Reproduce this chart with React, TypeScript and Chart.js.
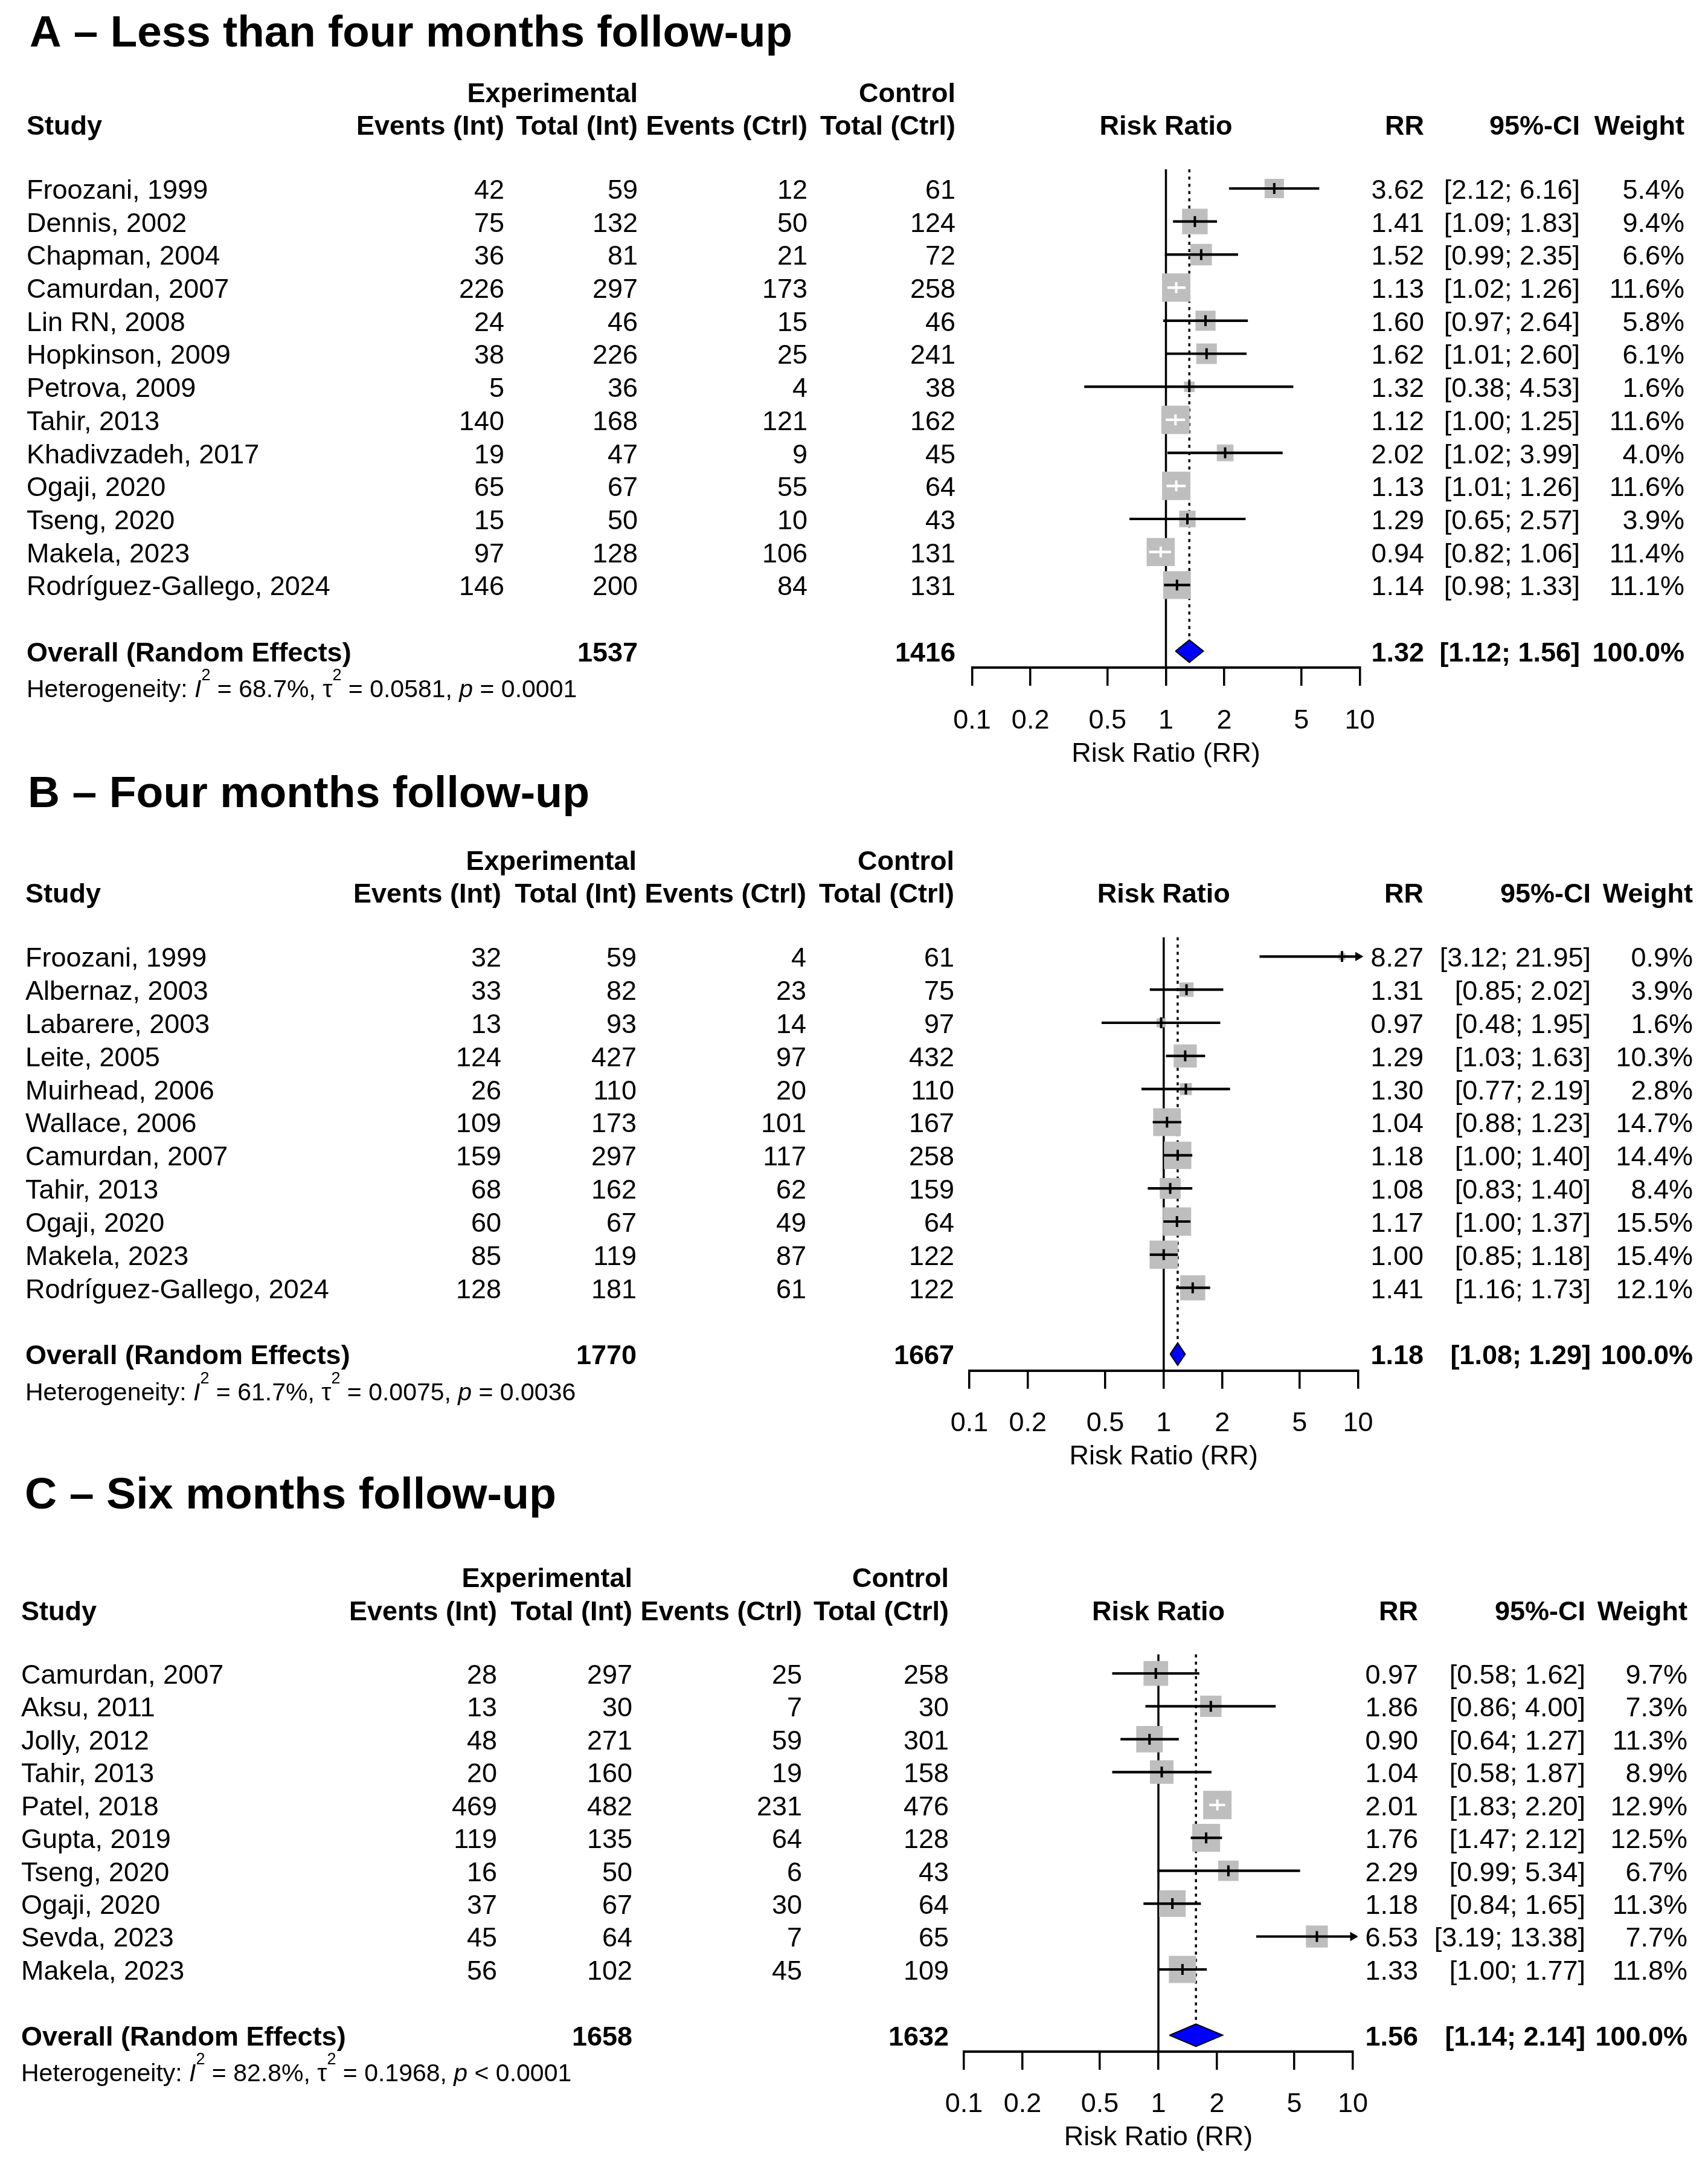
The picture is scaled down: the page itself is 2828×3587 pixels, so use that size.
import React, { useEffect, useRef } from "react";
import { Chart, registerables } from "chart.js";

Chart.register(...registerables);

const FONT = '"Liberation Sans", Arial, Helvetica, sans-serif';
const xTicks = [0.1, 0.2, 0.5, 1, 2, 5, 10];

// ---------------- Panel A ----------------
const titleA = "A \u2013 Less than four months follow-up";
const studiesA = ["Froozani, 1999", "Dennis, 2002", "Chapman, 2004", "Camurdan, 2007", "Lin RN, 2008", "Hopkinson, 2009", "Petrova, 2009", "Tahir, 2013", "Khadivzadeh, 2017", "Ogaji, 2020", "Tseng, 2020", "Makela, 2023", "Rodríguez-Gallego, 2024"];
const eventsIntA = [42, 75, 36, 226, 24, 38, 5, 140, 19, 65, 15, 97, 146];
const totalIntA = [59, 132, 81, 297, 46, 226, 36, 168, 47, 67, 50, 128, 200];
const eventsCtrlA = [12, 50, 21, 173, 15, 25, 4, 121, 9, 55, 10, 106, 84];
const totalCtrlA = [61, 124, 72, 258, 46, 241, 38, 162, 45, 64, 43, 131, 131];
const rrA = [3.62, 1.41, 1.52, 1.13, 1.6, 1.62, 1.32, 1.12, 2.02, 1.13, 1.29, 0.94, 1.14];
const lowerA = [2.12, 1.09, 0.99, 1.02, 0.97, 1.01, 0.38, 1.0, 1.02, 1.01, 0.65, 0.82, 0.98];
const upperA = [6.16, 1.83, 2.35, 1.26, 2.64, 2.6, 4.53, 1.25, 3.99, 1.26, 2.57, 1.06, 1.33];
const weightA = [5.4, 9.4, 6.6, 11.6, 5.8, 6.1, 1.6, 11.6, 4.0, 11.6, 3.9, 11.4, 11.1];
const overallA = [1.32, 1.12, 1.56];
const totalsA = [1537, 1416];
const hetA = ["68.7%", "0.0581", "= 0.0001"];

// ---------------- Panel B ----------------
const titleB = "B \u2013 Four months follow-up";
const studiesB = ["Froozani, 1999", "Albernaz, 2003", "Labarere, 2003", "Leite, 2005", "Muirhead, 2006", "Wallace, 2006", "Camurdan, 2007", "Tahir, 2013", "Ogaji, 2020", "Makela, 2023", "Rodríguez-Gallego, 2024"];
const eventsIntB = [32, 33, 13, 124, 26, 109, 159, 68, 60, 85, 128];
const totalIntB = [59, 82, 93, 427, 110, 173, 297, 162, 67, 119, 181];
const eventsCtrlB = [4, 23, 14, 97, 20, 101, 117, 62, 49, 87, 61];
const totalCtrlB = [61, 75, 97, 432, 110, 167, 258, 159, 64, 122, 122];
const rrB = [8.27, 1.31, 0.97, 1.29, 1.3, 1.04, 1.18, 1.08, 1.17, 1.0, 1.41];
const lowerB = [3.12, 0.85, 0.48, 1.03, 0.77, 0.88, 1.0, 0.83, 1.0, 0.85, 1.16];
const upperB = [21.95, 2.02, 1.95, 1.63, 2.19, 1.23, 1.4, 1.4, 1.37, 1.18, 1.73];
const weightB = [0.9, 3.9, 1.6, 10.3, 2.8, 14.7, 14.4, 8.4, 15.5, 15.4, 12.1];
const overallB = [1.18, 1.08, 1.29];
const totalsB = [1770, 1667];
const hetB = ["61.7%", "0.0075", "= 0.0036"];

// ---------------- Panel C ----------------
const titleC = "C \u2013 Six months follow-up";
const studiesC = ["Camurdan, 2007", "Aksu, 2011", "Jolly, 2012", "Tahir, 2013", "Patel, 2018", "Gupta, 2019", "Tseng, 2020", "Ogaji, 2020", "Sevda, 2023", "Makela, 2023"];
const eventsIntC = [28, 13, 48, 20, 469, 119, 16, 37, 45, 56];
const totalIntC = [297, 30, 271, 160, 482, 135, 50, 67, 64, 102];
const eventsCtrlC = [25, 7, 59, 19, 231, 64, 6, 30, 7, 45];
const totalCtrlC = [258, 30, 301, 158, 476, 128, 43, 64, 65, 109];
const rrC = [0.97, 1.86, 0.9, 1.04, 2.01, 1.76, 2.29, 1.18, 6.53, 1.33];
const lowerC = [0.58, 0.86, 0.64, 0.58, 1.83, 1.47, 0.99, 0.84, 3.19, 1.0];
const upperC = [1.62, 4.0, 1.27, 1.87, 2.2, 2.12, 5.34, 1.65, 13.38, 1.77];
const weightC = [9.7, 7.3, 11.3, 8.9, 12.9, 12.5, 6.7, 11.3, 7.7, 11.8];
const overallC = [1.56, 1.14, 2.14];
const totalsC = [1658, 1632];
const hetC = ["82.8%", "0.1968", "< 0.0001"];

// ---------------- layout (pixels, page coordinates) ----------------
const PAGE_W = 2828;
const PAGE_H = 3587;
const AXIS_H = 180;
const TEXT_DY = 4.5;
const SQ_MAX = 47;
const DIAMOND_H = 0.34;
const HEAD1_ROW = -2.93;
const HEAD2_ROW = -1.93;
const HET_ROW = 1.1;

type Cols = { study: number; evI: number; totI: number; evC: number; totC: number; rr: number; ci: number; w: number };
type Layout = { top: number; height: number; firstRow: number; rowH: number; left: number; right: number; titleX: number; titleBase: number; titleW: number; cols: Cols };
type PanelData = { title: string; studies: string[]; evI: number[]; totI: number[]; evC: number[]; totC: number[]; rr: number[]; lo: number[]; hi: number[]; w: number[]; overall: number[]; totals: number[]; het: string[] };

const layoutA: Layout = { top: 0, height: 1300, firstRow: 312, rowH: 54.7, left: 1609.5, right: 2251.5, titleX: 49, titleBase: 77, titleW: 1263, cols: { study: 44, evI: 835, totI: 1056, evC: 1337, totC: 1582, rr: 2358, ci: 2616, w: 2789 } };
const layoutB: Layout = { top: 1230, height: 1220, firstRow: 1583.3, rowH: 54.84, left: 1605, right: 2248.6, titleX: 46, titleBase: 1336, titleW: 930, cols: { study: 42, evI: 830, totI: 1054, evC: 1335, totC: 1580, rr: 2357, ci: 2634, w: 2803 } };
const layoutC: Layout = { top: 2400, height: 1187, firstRow: 2770, rowH: 54.44, left: 1596, right: 2240, titleX: 41, titleBase: 2497, titleW: 880, cols: { study: 35, evI: 823, totI: 1047, evC: 1328, totC: 1571, rr: 2348, ci: 2625, w: 2794 } };

const panelA: PanelData = { title: titleA, studies: studiesA, evI: eventsIntA, totI: totalIntA, evC: eventsCtrlA, totC: totalCtrlA, rr: rrA, lo: lowerA, hi: upperA, w: weightA, overall: overallA, totals: totalsA, het: hetA };
const panelB: PanelData = { title: titleB, studies: studiesB, evI: eventsIntB, totI: totalIntB, evC: eventsCtrlB, totC: totalCtrlB, rr: rrB, lo: lowerB, hi: upperB, w: weightB, overall: overallB, totals: totalsB, het: hetB };
const panelC: PanelData = { title: titleC, studies: studiesC, evI: eventsIntC, totI: totalIntC, evC: eventsCtrlC, totC: totalCtrlC, rr: rrC, lo: lowerC, hi: upperC, w: weightC, overall: overallC, totals: totalsC, het: hetC };

const ciText = (lo: number, hi: number) => `[${lo.toFixed(2)}; ${hi.toFixed(2)}]`;

function textPlugin(d: PanelData, L: Layout) {
  return {
    id: "forestText",
    afterDraw(chart: any) {
      const ctx: CanvasRenderingContext2D = chart.ctx;
      const ys = chart.scales.y;
      const xs = chart.scales.x;
      const rowY = (r: number) => ys.getPixelForValue(r) + TEXT_DY;
      const n = d.studies.length;
      const ov = n + 1;
      const c = L.cols;
      ctx.save();
      ctx.fillStyle = "#000";

      // title
      ctx.font = `bold 72px ${FONT}`;
      ctx.textAlign = "left";
      ctx.textBaseline = "alphabetic";
      const tw = ctx.measureText(d.title).width;
      ctx.save();
      ctx.translate(L.titleX, L.titleBase - L.top);
      ctx.scale(L.titleW / tw, 1);
      ctx.fillText(d.title, 0, 0);
      ctx.restore();

      const txt = (s: string, x: number, r: number, align: CanvasTextAlign, bold: boolean) => {
        ctx.font = `${bold ? "bold " : ""}45px ${FONT}`;
        ctx.textAlign = align;
        ctx.textBaseline = "middle";
        ctx.fillText(s, x, rowY(r));
      };

      // headers
      txt("Experimental", c.totI, HEAD1_ROW, "right", true);
      txt("Control", c.totC, HEAD1_ROW, "right", true);
      txt("Study", c.study, HEAD2_ROW, "left", true);
      txt("Events (Int)", c.evI, HEAD2_ROW, "right", true);
      txt("Total (Int)", c.totI, HEAD2_ROW, "right", true);
      txt("Events (Ctrl)", c.evC, HEAD2_ROW, "right", true);
      txt("Total (Ctrl)", c.totC, HEAD2_ROW, "right", true);
      txt("Risk Ratio", (xs.left + xs.right) / 2, HEAD2_ROW, "center", true);
      txt("RR", c.rr, HEAD2_ROW, "right", true);
      txt("95%-CI", c.ci, HEAD2_ROW, "right", true);
      txt("Weight", c.w, HEAD2_ROW, "right", true);

      // study rows
      d.studies.forEach((s, i) => {
        txt(s, c.study, i, "left", false);
        txt(String(d.evI[i]), c.evI, i, "right", false);
        txt(String(d.totI[i]), c.totI, i, "right", false);
        txt(String(d.evC[i]), c.evC, i, "right", false);
        txt(String(d.totC[i]), c.totC, i, "right", false);
        txt(d.rr[i].toFixed(2), c.rr, i, "right", false);
        txt(ciText(d.lo[i], d.hi[i]), c.ci, i, "right", false);
        txt(d.w[i].toFixed(1) + "%", c.w, i, "right", false);
      });

      // overall row
      txt("Overall (Random Effects)", c.study, ov, "left", true);
      txt(String(d.totals[0]), c.totI, ov, "right", true);
      txt(String(d.totals[1]), c.totC, ov, "right", true);
      txt(d.overall[0].toFixed(2), c.rr, ov, "right", true);
      txt(ciText(d.overall[1], d.overall[2]), c.ci, ov, "right", true);
      txt("100.0%", c.w, ov, "right", true);

      // heterogeneity
      let hx = c.study;
      const hy = rowY(ov + HET_ROW);
      ctx.textAlign = "left";
      ctx.textBaseline = "middle";
      const seg = (s: string, style: string, dy = 0, size = 41) => {
        ctx.font = `${style} ${size}px ${FONT}`;
        ctx.fillText(s, hx, hy + dy);
        hx += ctx.measureText(s).width;
      };
      seg("Heterogeneity: ", "normal");
      seg("I", "italic");
      seg("2", "normal", -24, 27);
      seg(" = " + d.het[0] + ", ", "normal");
      seg("\u03c4", "normal");
      seg("2", "normal", -24, 27);
      seg(" = " + d.het[1] + ", ", "normal");
      seg("p", "italic");
      seg(" " + d.het[2], "normal");

      ctx.restore();
    },
  };
}

function buildConfig(d: PanelData, L: Layout): any {
  const n = d.studies.length;
  const ov = n + 1;
  const axisRow = n + 1.5;
  const xMax = xTicks[xTicks.length - 1];
  const decadePx = (L.right - L.left) / Math.log10(xTicks[xTicks.length - 1] / xTicks[0]);
  const maxW = Math.max(...d.w);
  const sides = d.w.map((w) => SQ_MAX * Math.sqrt(w / maxW));
  const lineCol = d.lo.map((lo, i) => (decadePx * Math.log10(Math.min(d.hi[i], xMax) / lo) < 0.85 * sides[i] ? "#ffffff" : "#000000"));
  const firstLocal = L.firstRow - L.top;
  const axisLocal = firstLocal + axisRow * L.rowH;
  const yMin = -4;
  const topPad = firstLocal + yMin * L.rowH;
  const [est, oLo, oHi] = d.overall;
  const arrows = d.hi.map((h, i) => (h > xMax ? { x: xMax, y: i } : null)).filter((p) => p !== null);

  return {
    type: "scatter",
    data: {
      datasets: [
        { type: "line", label: "no effect", data: [{ x: 1, y: -0.58 }, { x: 1, y: axisRow }], borderColor: "#000", borderWidth: 3.5, pointRadius: 0, order: 10 },
        { type: "line", label: "overall estimate", data: [{ x: est, y: -0.58 }, { x: est, y: ov - DIAMOND_H }], borderColor: "#000", borderWidth: 3.5, borderDash: [5, 7], pointRadius: 0, order: 9 },
        {
          type: "scatter", label: "weights", data: d.rr.map((v, i) => ({ x: v, y: i })),
          pointStyle: "rect", pointRadius: sides.map((s) => s / Math.SQRT2), pointBackgroundColor: "#bebebe", pointBorderWidth: 0, order: 5,
        },
        {
          type: "bar", label: "95%-CI", indexAxis: "y", data: d.lo.map((lo, i) => ({ x: [lo, d.hi[i]], y: i })),
          backgroundColor: lineCol, borderWidth: 0, barThickness: 3.5, clip: 0, order: 3,
        },
        {
          type: "scatter", label: "estimate", data: d.rr.map((v, i) => ({ x: v, y: i })),
          pointStyle: "line", pointRotation: 90, pointRadius: 9, pointBorderColor: lineCol, pointBorderWidth: 4, order: 2,
        },
        {
          type: "line", label: "overall",
          data: [{ x: oLo, y: ov }, { x: est, y: ov - DIAMOND_H }, { x: oHi, y: ov }, { x: est, y: ov + DIAMOND_H }, { x: oLo, y: ov }],
          fill: "shape", backgroundColor: "#0000ff", borderColor: "#000", borderWidth: 2, pointRadius: 0, tension: 0, order: 1,
        },
        {
          type: "scatter", label: "arrows", data: arrows, pointStyle: "triangle", pointRotation: 90, pointRadius: 8,
          pointBackgroundColor: "#000", pointBorderColor: "#000", pointBorderWidth: 1, clip: false, order: 0,
        },
      ],
    },
    options: {
      responsive: false,
      maintainAspectRatio: false,
      animation: false,
      events: [],
      layout: { padding: { left: L.left, right: PAGE_W - L.right, top: topPad, bottom: L.height - axisLocal - AXIS_H } },
      plugins: { legend: { display: false }, tooltip: { enabled: false }, title: { display: false } },
      scales: {
        x: {
          type: "logarithmic", position: "bottom", min: xTicks[0], max: xMax, beginAtZero: false, offset: false,
          afterBuildTicks: (s: any) => { s.ticks = xTicks.map((v) => ({ value: v })); },
          afterFit: (s: any) => { s.height = AXIS_H; },
          ticks: { autoSkip: false, maxRotation: 0, minRotation: 0, padding: 31, color: "#000", font: { family: FONT, size: 45 }, callback: (v: any) => String(v) },
          grid: { display: true, drawOnChartArea: false, drawTicks: true, tickLength: 30, color: "#000", lineWidth: 3.5 },
          border: { display: true, color: "#000", width: 4 },
          title: { display: true, text: "Risk Ratio (RR)", color: "#000", font: { family: FONT, size: 45 }, padding: { top: 0, bottom: 10 } },
        },
        y: { type: "linear", min: yMin, max: axisRow, reverse: true, display: false, offset: false },
      },
    },
    plugins: [textPlugin(d, L)],
  };
}

function ForestPanel({ d, L }: { d: PanelData; L: Layout }) {
  const ref = useRef<HTMLCanvasElement | null>(null);
  useEffect(() => {
    if (!ref.current) return;
    const chart = new Chart(ref.current, buildConfig(d, L));
    return () => chart.destroy();
  }, []);
  return (
    <canvas
      ref={ref}
      width={PAGE_W}
      height={L.height}
      style={{ position: "absolute", left: 0, top: L.top, width: PAGE_W, height: L.height, display: "block" }}
    />
  );
}

export default function App() {
  return (
    <div style={{ position: "absolute", left: 0, top: 0, width: PAGE_W, height: PAGE_H, background: "#fff", overflow: "hidden" }}>
      <ForestPanel d={panelA} L={layoutA} />
      <ForestPanel d={panelB} L={layoutB} />
      <ForestPanel d={panelC} L={layoutC} />
    </div>
  );
}
